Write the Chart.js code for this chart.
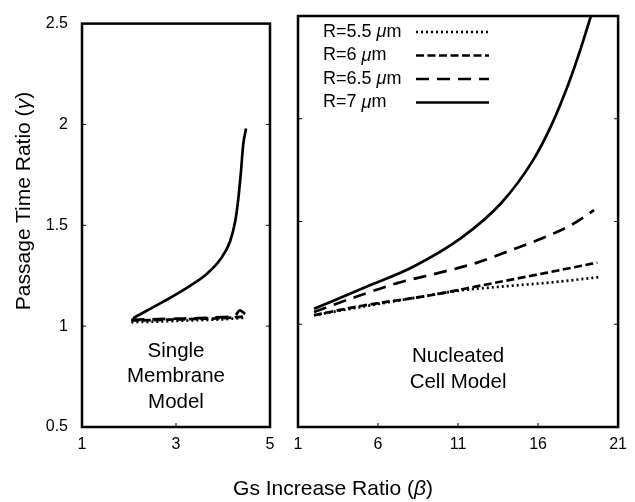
<!DOCTYPE html>
<html>
<head>
<meta charset="utf-8">
<script src="https://cdn.jsdelivr.net/npm/chart.js"></script>
<style>
  body { margin: 0; background: #fff; width: 635px; height: 502px; position: relative; overflow: hidden; font-family: "Liberation Sans", Arial, sans-serif; }
  #left { position: absolute; left: 0; top: 0; }
  #right { position: absolute; left: 284px; top: 0; }
  #xtitle { position: absolute; left: 232px; width: 202px; top: 475px; line-height: 26px; text-align: center; font-size: 21px; color: #000; white-space: nowrap; }
  #ytitle { position: absolute; left: -127px; width: 300px; top: 188px; line-height: 26px; text-align: center; font-size: 21px; color: #000; white-space: nowrap; transform: rotate(-90deg); }
</style>
</head>
<body>
<canvas id="left" width="284" height="502"></canvas>
<canvas id="right" width="351" height="502"></canvas>
<div id="ytitle">Passage Time Ratio (<i>γ</i>)</div>
<div id="xtitle">Gs Increase Ratio (<i>β</i>)</div>
<script>
// series labels
const seriesLabels = ["R=5.5 μm", "R=6 μm", "R=6.5 μm", "R=7 μm"];

// left panel: single membrane model
const leftX55 = [2.05, 2.5, 3, 3.5, 4, 4.47];
const leftY55 = [1.02, 1.022, 1.026, 1.03, 1.034, 1.042];
const leftX6 = [2.05, 2.5, 3, 3.5, 4, 4.47];
const leftY6 = [1.028, 1.03, 1.033, 1.036, 1.04, 1.048];
const leftX65 = [2.05, 2.5, 3, 3.5, 4, 4.25, 4.36, 4.47];
const leftY65 = [1.032, 1.034, 1.037, 1.04, 1.045, 1.05, 1.078, 1.06];
const leftX7 = [2.09, 2.72, 3.23, 3.66, 3.94, 4.15, 4.26, 4.32, 4.38, 4.43, 4.49];
const leftY7 = [1.04, 1.12, 1.19, 1.26, 1.33, 1.42, 1.52, 1.62, 1.76, 1.9, 1.98];

// right panel: nucleated cell model
const rightX55 = [2, 5, 8, 11.2, 14, 17, 19.9];
const rightY55 = [1.044, 1.085, 1.125, 1.165, 1.185, 1.205, 1.23];
const rightX6 = [2, 5, 9.2, 13.2, 16.5, 19.7];
const rightY6 = [1.044, 1.09, 1.14, 1.2, 1.25, 1.3];
const rightX65 = [2, 4.5, 7.2, 9.8, 12.2, 14.3, 16.3, 18, 19.5];
const rightY65 = [1.06, 1.13, 1.2, 1.25, 1.3, 1.36, 1.42, 1.48, 1.555];
const rightX7 = [2, 5.2, 8.2, 11.2, 13.7, 15.7, 16.9, 17.9, 18.7, 19.3];
const rightY7 = [1.075, 1.18, 1.28, 1.42, 1.59, 1.8, 1.98, 2.17, 2.35, 2.5];

// axis ticks
const yTicks = [0.5, 1, 1.5, 2, 2.5];
const leftXTicks = [1, 3, 5];
const rightXTicks = [1, 6, 11, 16, 21];

const dashes = [[2, 3], [8, 3.5], [13, 8], []];
const font = "Liberation Sans, Arial, sans-serif";

function pts(xs, ys) {
  return xs.map((x, i) => ({ x: x, y: ys[i] }));
}

function makeSets(groups) {
  return groups.map((g, i) => ({
    label: seriesLabels[i],
    data: pts(g[0], g[1]),
    borderColor: "#000",
    borderWidth: 2.7,
    borderDash: dashes[i],
    pointRadius: 0,
    fill: false,
    cubicInterpolationMode: "monotone",
  }));
}

// frame + inward ticks
const framePlugin = {
  id: "frame",
  afterDatasetsDraw(chart) {
    const { ctx, chartArea: a, scales } = chart;
    ctx.save();
    ctx.strokeStyle = "#000";
    ctx.lineWidth = 1;
    scales.x.ticks.forEach((t) => {
      const px = scales.x.getPixelForValue(t.value);
      ctx.beginPath();
      ctx.moveTo(px, a.bottom);
      ctx.lineTo(px, a.bottom - 4);
      ctx.stroke();
    });
    yTicks.forEach((v) => {
      const py = scales.y.getPixelForValue(v);
      ctx.beginPath();
      ctx.moveTo(a.left, py);
      ctx.lineTo(a.left + 4, py);
      ctx.moveTo(a.right, py);
      ctx.lineTo(a.right - 4, py);
      ctx.stroke();
    });
    ctx.lineWidth = 2.5;
    ctx.strokeRect(a.left, a.top, a.right - a.left, a.bottom - a.top);
    ctx.restore();
  },
};

// centred panel caption
function captionPlugin(lines, yVals) {
  return {
    id: "caption",
    afterDraw(chart) {
      const { ctx, chartArea: a, scales } = chart;
      ctx.save();
      ctx.fillStyle = "#000";
      ctx.font = "20.5px " + font;
      ctx.textAlign = "center";
      ctx.textBaseline = "middle";
      lines.forEach((s, i) => {
        ctx.fillText(s, (a.left + a.right) / 2, scales.y.getPixelForValue(yVals[i]));
      });
      ctx.restore();
    },
  };
}

// legend: label first, then line sample
const legendPlugin = {
  id: "sideLegend",
  afterDraw(chart) {
    const { ctx, chartArea: a } = chart;
    ctx.save();
    ctx.fillStyle = "#000";
    ctx.strokeStyle = "#000";
    ctx.textBaseline = "middle";
    chart.data.datasets.forEach((ds, i) => {
      const y = a.top + 16 + i * 23.5;
      let x = a.left + 25;
      const parts = ds.label.split("μ");
      ctx.font = "18px " + font;
      ctx.fillText(parts[0], x, y);
      x += ctx.measureText(parts[0]).width;
      ctx.font = "italic 18px " + font;
      ctx.fillText("μ", x, y);
      x += ctx.measureText("μ").width;
      ctx.font = "18px " + font;
      ctx.fillText(parts[1], x, y);
      ctx.beginPath();
      ctx.lineWidth = ds.borderWidth;
      ctx.setLineDash(ds.borderDash);
      ctx.moveTo(a.left + 118, y);
      ctx.lineTo(a.left + 191, y);
      ctx.stroke();
    });
    ctx.restore();
  },
};

function baseScales(xmin, xmax, step, showY) {
  const y = {
    display: showY,
    min: 0.5,
    max: 2.5,
    grid: { display: false, drawTicks: false },
    border: { display: false },
    ticks: { stepSize: 0.5, color: "#000", font: { size: 16, family: font }, padding: 14, callback: (v) => String(v) },
  };
  if (showY) y.afterFit = (s) => { s.width = 82; };
  return {
    x: {
      type: "linear",
      min: xmin,
      max: xmax,
      grid: { display: false, drawTicks: false },
      border: { display: false },
      ticks: { stepSize: step, color: "#000", font: { size: 16, family: font }, padding: 8, maxRotation: 0, callback: (v) => String(v) },
      afterFit: (s) => { s.height = 75; },
    },
    y: y,
  };
}

new Chart(document.getElementById("left"), {
  type: "line",
  data: {
    datasets: makeSets([
      [leftX55, leftY55], [leftX6, leftY6], [leftX65, leftY65], [leftX7, leftY7],
    ]),
  },
  options: {
    responsive: false,
    animation: false,
    layout: { padding: { left: 0, right: 14, top: 16, bottom: 0 } },
    plugins: { legend: { display: false }, tooltip: { enabled: false } },
    scales: baseScales(1, 5, 2, true),
  },
  plugins: [framePlugin, captionPlugin(["Single", "Membrane", "Model"], [0.873, 0.75, 0.62])],
});

new Chart(document.getElementById("right"), {
  type: "line",
  data: {
    datasets: makeSets([
      [rightX55, rightY55], [rightX6, rightY6], [rightX65, rightY65], [rightX7, rightY7],
    ]),
  },
  options: {
    responsive: false,
    animation: false,
    layout: { padding: { left: 14, right: 8, top: 16, bottom: 0 } },
    plugins: { legend: { display: false }, tooltip: { enabled: false } },
    scales: baseScales(1, 21, 5, false),
  },
  plugins: [framePlugin, legendPlugin, captionPlugin(["Nucleated", "Cell Model"], [0.844, 0.718])],
});
</script>
</body>
</html>
